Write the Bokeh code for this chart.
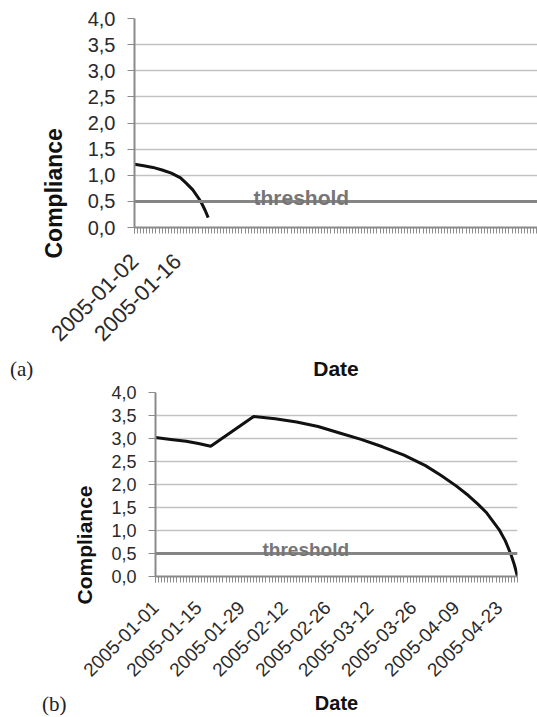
import math
import pandas as pd
from bokeh.plotting import figure
from bokeh.models import (FixedTicker, DatetimeTickFormatter, CustomJSTickFormatter,
                          Span, Label, Range1d, Title, Div)
from bokeh.embed import file_html
from bokeh.resources import INLINE

# ---------------- data ----------------
# chart (a)
a_dates = ["2005-01-02", "2005-01-05", "2005-01-08", "2005-01-11", "2005-01-14",
           "2005-01-17", "2005-01-19", "2005-01-21", "2005-01-23", "2005-01-24",
           "2005-01-25", "2005-01-26"]
a_values = [1.21, 1.18, 1.15, 1.10, 1.04, 0.95, 0.84, 0.72, 0.55, 0.45, 0.33, 0.19]
a_tick_labels = ["2005-01-02", "2005-01-16"]
a_axis_start = "2005-01-02"
a_axis_end = "2005-05-13 07:00"

# chart (b)
b_dates = ["2005-01-01", "2005-01-06", "2005-01-11", "2005-01-15", "2005-01-19",
           "2005-02-02", "2005-02-09", "2005-02-16", "2005-02-23", "2005-03-02",
           "2005-03-09", "2005-03-16", "2005-03-23", "2005-03-30", "2005-04-04",
           "2005-04-09", "2005-04-13", "2005-04-16", "2005-04-19", "2005-04-21",
           "2005-04-23", "2005-04-25", "2005-04-26", "2005-04-27", "2005-04-28",
           "2005-04-29"]
b_values = [3.02, 2.98, 2.94, 2.89, 2.83,
            3.48, 3.43, 3.36, 3.26, 3.12,
            2.98, 2.82, 2.64, 2.41, 2.20,
            1.97, 1.76, 1.58, 1.38, 1.20,
            1.02, 0.78, 0.62, 0.45, 0.25,
            0.00]
b_tick_labels = ["2005-01-01", "2005-01-15", "2005-01-29", "2005-02-12", "2005-02-26",
                 "2005-03-12", "2005-03-26", "2005-04-09", "2005-04-23"]
b_axis_start = "2005-01-01"
b_axis_end = "2005-04-29"

threshold = 0.5
y_ticks = [0.0, 0.5, 1.0, 1.5, 2.0, 2.5, 3.0, 3.5, 4.0]
y_label = "Compliance"
x_label = "Date"
threshold_label = "threshold"
captions = ["(a)", "(b)"]


def ms(d):
    return pd.Timestamp(d).value / 1e6


FONT = "Liberation Sans"
AXIS_COL = "#8a8a8a"
GRID_COL = "#c2c2c2"
TEXT_COL = "#2a2a2a"


def make_chart(dates, values, tick_labels, start, end, width, height, borders, fs, st, top):
    x0, x1 = ms(start), ms(end)
    days = pd.date_range(pd.Timestamp(start).normalize(), pd.Timestamp(end), freq="D")
    p = figure(width=width, height=height, x_axis_type="datetime",
               x_range=Range1d(x0, x1), y_range=Range1d(0, 4),
               output_backend="svg", toolbar_location=None,
               min_border_left=borders[0], min_border_right=borders[1],
               min_border_top=borders[2], min_border_bottom=borders[3],
               styles={"position": "absolute", "left": "0px", "top": f"{top}px"})
    p.outline_line_color = None
    p.background_fill_color = "white"
    p.border_fill_color = "white"

    yt = FixedTicker(ticks=y_ticks, minor_ticks=[])
    p.yaxis.ticker = yt
    p.ygrid.ticker = yt
    p.yaxis.formatter = CustomJSTickFormatter(code="return tick.toFixed(1).replace('.', ',');")
    p.xgrid.visible = False
    p.ygrid.grid_line_color = GRID_COL
    p.ygrid.grid_line_width = 1.3

    xt = FixedTicker(ticks=[ms(t) for t in tick_labels],
                     minor_ticks=[ms(d) for d in days])
    p.xaxis.ticker = xt
    p.xaxis.formatter = DatetimeTickFormatter(days="%Y-%m-%d", months="%Y-%m-%d",
                                              years="%Y-%m-%d", hours="%Y-%m-%d")
    p.xaxis.major_label_orientation = math.pi / 4

    for ax in (p.xaxis, p.yaxis):
        ax.axis_line_color = AXIS_COL
        ax.axis_line_width = 2
        ax.major_tick_line_color = AXIS_COL
        ax.major_tick_line_width = 1
        ax.major_tick_in = 0
        ax.major_label_text_font = FONT
        ax.major_label_text_color = TEXT_COL
    p.yaxis.major_tick_out = 7
    p.yaxis.minor_tick_line_color = None
    p.yaxis.major_label_standoff = 12
    p.yaxis.major_label_text_font_size = fs["ytick"]
    p.xaxis.major_tick_out = 6
    p.xaxis.minor_tick_out = 6
    p.xaxis.minor_tick_in = 0
    p.xaxis.minor_tick_line_color = "#8c8c8c"
    p.xaxis.major_label_standoff = st["xtick"]
    p.xaxis.major_label_text_font_size = fs["xtick"]

    p.xaxis.axis_label = x_label
    p.xaxis.axis_label_text_font = FONT
    p.xaxis.axis_label_text_font_style = "bold"
    p.xaxis.axis_label_text_font_size = fs["xlabel"]
    p.xaxis.axis_label_text_color = "#111111"
    p.xaxis.axis_label_standoff = st["xlabel"]

    p.add_layout(Title(text=y_label, align="left", offset=st["yoff"],
                       vertical_align="middle", standoff=st["ylabel"],
                       text_font=FONT, text_font_style="bold",
                       text_font_size=fs["ylabel"], text_color="#111111"), "left")

    p.add_layout(Span(location=threshold, dimension="width", line_color="#858585",
                      line_width=3))
    p.line([pd.Timestamp(d) for d in dates], values, line_color="#111111", line_width=3)
    return p


# ---------------- chart (a) ----------------
pa = make_chart(a_dates, a_values, a_tick_labels, a_axis_start, a_axis_end,
                537, 384, (134, 0, 18, 157),
                {"ytick": "20px", "xtick": "22px", "xlabel": "21px", "ylabel": "23px"},
                {"xtick": 24, "xlabel": 6, "yoff": -31, "ylabel": 34}, 0)
pa.add_layout(Label(x=119, y=threshold, x_units="screen", y_units="data",
                    y_offset=4, text=threshold_label, text_align="left",
                    text_baseline="alphabetic", text_font=FONT, text_font_style="bold",
                    text_font_size="21px", text_color="#767676"))

# ---------------- chart (b) ----------------
pb = make_chart(b_dates, b_values, b_tick_labels, b_axis_start, b_axis_end,
                537, 333, (155, 20, 8, 138),
                {"ytick": "18px", "xtick": "19px", "xlabel": "20px", "ylabel": "21px"},
                {"xtick": 22, "xlabel": 7, "yoff": -28, "ylabel": 23}, 384)
pb.add_layout(Label(x=107, y=threshold, x_units="screen", y_units="data",
                    y_offset=4, text=threshold_label, text_align="left",
                    text_baseline="alphabetic", text_font=FONT, text_font_style="bold",
                    text_font_size="19px", text_color="#767676"))

# ---------------- captions ----------------
def caption(text, left, top):
    return Div(text=f'<span style="font-family: \'Liberation Serif\'; font-size: 21px; '
                    f'line-height: 20px; color: #222222;">{text}</span>',
               width=40, height=23,
               styles={"position": "absolute", "left": f"{left}px", "top": f"{top}px",
                       "margin": "0px", "overflow": "visible"})


cap_a = caption(captions[0], 10, 359)
cap_b = caption(captions[1], 42, 694)

open("out.html", "w").write(file_html([pa, pb, cap_a, cap_b], INLINE))
